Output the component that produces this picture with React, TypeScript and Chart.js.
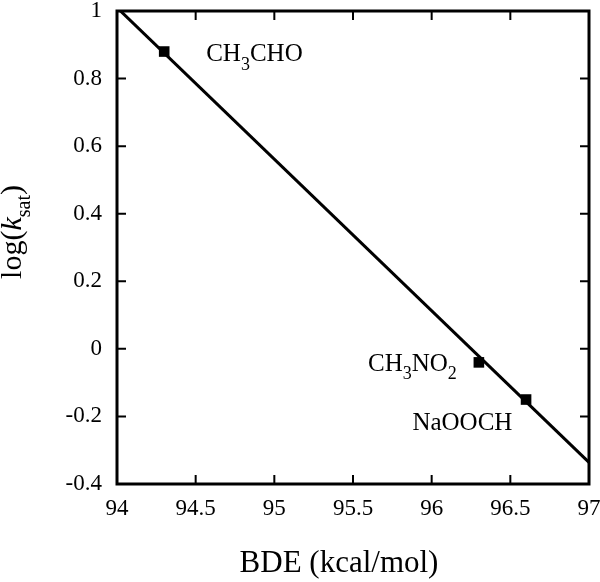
import React, { useEffect, useRef } from "react";
import { Chart, registerables } from "chart.js";

Chart.register(...registerables);

// Data
const bde = [94.3, 96.3, 96.6];
const logKsat = [0.88, -0.04, -0.15];
const compounds = ["CH3CHO", "CH3NO2", "NaOOCH"];

// Linear fit line endpoints
const fitX = [94, 97];
const fitY = [1.01, -0.336];

// Axis ticks
const xTicks = [94, 94.5, 95, 95.5, 96, 96.5, 97];
const yTicks = [-0.4, -0.2, 0, 0.2, 0.4, 0.6, 0.8, 1];

const FONT = '"Liberation Serif", "Times New Roman", serif';

// label placement: [dx, dy, align]
const labelPlacement: [number, number, string][] = [
  [42, 9.5, "left"],
  [-22, 8.5, "right"],
  [-13.7, 30, "right"],
];

function drawFormula(ctx: CanvasRenderingContext2D, text: string, x: number, y: number, align: string, size: number) {
  const parts: { t: string; sub: boolean }[] = [];
  for (const ch of text) {
    const sub = /[0-9]/.test(ch);
    if (parts.length && parts[parts.length - 1].sub === sub) parts[parts.length - 1].t += ch;
    else parts.push({ t: ch, sub });
  }
  const subSize = Math.round(size * 0.72);
  const measure = (p: { t: string; sub: boolean }) => {
    ctx.font = `${p.sub ? subSize : size}px ${FONT}`;
    return ctx.measureText(p.t).width;
  };
  let total = 0;
  parts.forEach((p) => (total += measure(p)));
  let cx = align === "right" ? x - total : x;
  ctx.textAlign = "left";
  ctx.textBaseline = "alphabetic";
  parts.forEach((p) => {
    ctx.font = `${p.sub ? subSize : size}px ${FONT}`;
    ctx.fillText(p.t, cx, p.sub ? y + size * 0.34 : y);
    cx += ctx.measureText(p.t).width;
  });
}

const framePlugin = {
  id: "framePlugin",
  afterDraw(chart: any) {
    const { ctx, chartArea } = chart;
    const { left, right, top, bottom } = chartArea;
    const xs = chart.scales.x;
    const ys = chart.scales.y;
    ctx.save();
    ctx.strokeStyle = "#000";
    ctx.fillStyle = "#000";
    ctx.lineWidth = 3;
    ctx.strokeRect(left, top, right - left, bottom - top);
    ctx.lineWidth = 2;
    const tl = 9;
    ctx.beginPath();
    xTicks.forEach((v) => {
      const px = xs.getPixelForValue(v);
      ctx.moveTo(px, bottom);
      ctx.lineTo(px, bottom - tl);
      ctx.moveTo(px, top);
      ctx.lineTo(px, top + tl);
    });
    yTicks.forEach((v) => {
      const py = ys.getPixelForValue(v);
      ctx.moveTo(left, py);
      ctx.lineTo(left + tl, py);
      ctx.moveTo(right, py);
      ctx.lineTo(right - tl, py);
    });
    ctx.stroke();

    // annotations
    compounds.forEach((c, i) => {
      const px = xs.getPixelForValue(bde[i]);
      const py = ys.getPixelForValue(logKsat[i]);
      const [dx, dy, al] = labelPlacement[i];
      drawFormula(ctx, c, px + dx, py + dy, al, 25);
    });

    // x title
    ctx.font = `31px ${FONT}`;
    ctx.textAlign = "center";
    ctx.textBaseline = "alphabetic";
    ctx.fillText("BDE (kcal/mol)", 339, 572);

    // y title: log(k_sat)
    ctx.translate(21, 232);
    ctx.rotate(-Math.PI / 2);
    const segs = [
      { t: "log(", f: `30px ${FONT}`, dy: 0 },
      { t: "k", f: `italic 30px ${FONT}`, dy: 0 },
      { t: "sat", f: `20px ${FONT}`, dy: 9 },
      { t: ")", f: `30px ${FONT}`, dy: 0 },
    ];
    let total = 0;
    segs.forEach((s) => {
      ctx.font = s.f;
      total += ctx.measureText(s.t).width;
    });
    let cx = -total / 2;
    ctx.textAlign = "left";
    segs.forEach((s) => {
      ctx.font = s.f;
      ctx.fillText(s.t, cx, s.dy);
      cx += ctx.measureText(s.t).width;
    });
    ctx.restore();
  },
};

export default function App() {
  const ref = useRef<HTMLCanvasElement>(null);
  useEffect(() => {
    if (!ref.current) return;
    const chart = new Chart(ref.current, {
      type: "scatter",
      data: {
        datasets: [
          {
            label: "data",
            data: bde.map((x, i) => ({ x, y: logKsat[i] })),
            pointStyle: "rect",
            pointRadius: 7.5,
            pointBackgroundColor: "#000",
            pointBorderWidth: 0,
            showLine: false,
          },
          {
            label: "fit",
            data: fitX.map((x, i) => ({ x, y: fitY[i] })),
            showLine: true,
            borderColor: "#000",
            borderWidth: 3,
            pointRadius: 0,
            fill: false,
          },
        ],
      },
      options: {
        animation: false,
        responsive: false,
        layout: { padding: { top: 11, right: 11, left: 0, bottom: 0 } },
        plugins: { legend: { display: false }, tooltip: { enabled: false } },
        scales: {
          x: {
            type: "linear",
            min: 94,
            max: 97,
            grid: { display: false, drawTicks: false },
            border: { display: false },
            afterBuildTicks: (s: any) => {
              s.ticks = xTicks.map((v) => ({ value: v }));
            },
            afterFit: (s: any) => {
              s.height = 98;
              s.paddingLeft = 0;
              s.paddingRight = 0;
              s.paddingTop = 0;
              s.paddingBottom = 0;
            },
            ticks: {
              color: "#000",
              font: { family: FONT, size: 23 },
              padding: 11,
              maxRotation: 0,
              callback: (v: any) => String(Number(Number(v).toFixed(1))),
            },
          },
          y: {
            type: "linear",
            min: -0.4,
            max: 1,
            grid: { display: false, drawTicks: false },
            border: { display: false },
            afterBuildTicks: (s: any) => {
              s.ticks = yTicks.map((v) => ({ value: v }));
            },
            afterFit: (s: any) => {
              s.width = 117;
              s.paddingLeft = 0;
              s.paddingRight = 0;
              s.paddingTop = 0;
              s.paddingBottom = 0;
            },
            ticks: {
              color: "#000",
              font: { family: FONT, size: 23 },
              padding: 15,
              callback: (v: any) => String(Number(Number(v).toFixed(1))),
            },
          },
        },
      },
      plugins: [framePlugin],
    } as any);
    return () => chart.destroy();
  }, []);
  return (
    <div style={{ position: "absolute", left: 0, top: 0, width: 600, height: 582, background: "#fff" }}>
      <canvas ref={ref} width={600} height={582} />
    </div>
  );
}
